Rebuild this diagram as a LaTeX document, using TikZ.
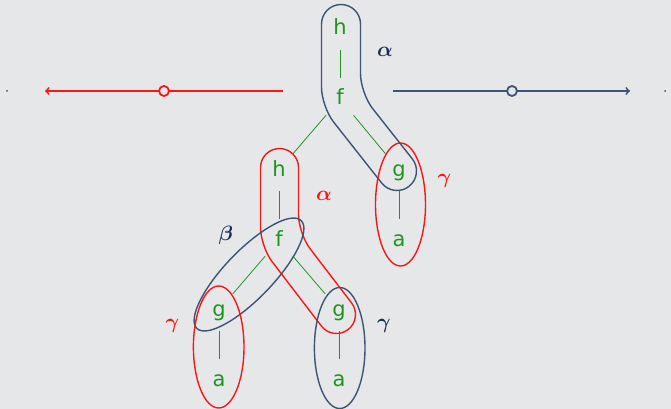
\documentclass[tikz,border=0pt]{standalone}
\usepackage{amsmath, amssymb}
\usepackage{bm}
\usepackage{fontspec}
\newfontfamily\treefont{DejaVu Sans}

\definecolor{bggray}{RGB}{230,231,233}
\definecolor{leafgreen}{RGB}{30,150,30}
\definecolor{ringred}{RGB}{255,20,20}
\definecolor{ringblue}{RGB}{58,85,118}
\definecolor{tagblue}{RGB}{25,45,90}

\tikzset{
  leaf/.style={circle, minimum size=42pt, inner sep=0pt, text=leafgreen,
    font=\treefont\fontsize{21}{25}\selectfont, text height=14pt, text depth=2pt},
  branch/.style={leafgreen, line width=0.8pt},
  ring/.style={line width=1.4pt},
  tag/.style={font=\fontsize{20}{22}\selectfont},
  hole/.style={circle, fill=bggray, line width=1.8pt, minimum size=10pt, inner sep=0pt},
}

\begin{document}
\begin{tikzpicture}[x=1pt, y=-1pt]
\useasboundingbox (0,0) rectangle (671,409);
\fill[bggray] (0,0) rectangle (671,409);

% rays
\coordinate (redfrom) at (283,91);
\coordinate (redto) at (45,91);
\draw[ringred, line width=1.8pt, ->] (redfrom) -- (redto);
\node[hole, draw=ringred] (redhole) at (164,91) {};
\coordinate (bluefrom) at (393,91);
\coordinate (blueto) at (630,91);
\draw[ringblue, line width=1.8pt, ->] (bluefrom) -- (blueto);
\node[hole, draw=ringblue] (bluehole) at (512,91) {};
\fill[black!70] (7,91) circle (1pt);
\fill[black!70] (665,91) circle (1pt);

% upper term
\node[leaf] (h1) at (340,29) {h};
\node[leaf] (f1) at (340,99) {f};
\node[leaf] (g1) at (399,170) {g};
\node[leaf] (a1) at (399,240) {a};

% lower term
\node[leaf] (h2) at (279,170) {h};
\node[leaf] (f2) at (279,240) {f};
\node[leaf] (g2) at (219,310) {g};
\node[leaf] (a2) at (219,380) {a};
\node[leaf] (g3) at (339,310) {g};
\node[leaf] (a3) at (339,380) {a};

% branches
\foreach \u/\v in {h1/f1, f1/h2, f1/g1, g1/a1, h2/f2, f2/g2, f2/g3, g2/a2, g3/a3}
  \draw[branch] (\u) -- (\v);

% alpha around h-f-g (top)
\draw[ring, ringblue, rounded corners=19.5pt]
  (321.5,60) -- (321.5,4.5) -- (360.5,4.5) -- (360.5,93.2)
  -- (424.4,174.2) -- (393.8,198.4) -- (321.5,106.7) -- cycle;
\node[tag, text=tagblue] (alpha1) at (385,52) {$\bm{\alpha}$};

% gamma around g-a (top)
\draw[ring, ringred] (400.5,204.5) ellipse [x radius=25, y radius=61.5];
\node[tag, text=ringred] (gamma1) at (444.5,181) {$\bm{\gamma}$};

% alpha around h-f-g (bottom)
\draw[ring, ringred, rounded corners=19pt]
  (260.5,200) -- (260.5,148.5) -- (298.5,148.5) -- (298.5,233.6)
  -- (363.15,318.05) -- (332.95,341.15) -- (260.5,246.5) -- cycle;
\node[tag, text=ringred] (alpha2) at (324,195.5) {$\bm{\alpha}$};

% beta around f-g
\draw[ring, ringblue, rotate around={46:(249,274.5)}]
  (249,274.5) ellipse [x radius=75, y radius=24];
\node[tag, text=tagblue] (beta) at (225.7,235) {$\bm{\beta}$};

% gammas around g-a (bottom)
\draw[ring, ringred] (218.7,347) ellipse [x radius=25.3, y radius=61];
\node[tag, text=ringred] (gamma2) at (172.5,326) {$\bm{\gamma}$};
\draw[ring, ringblue] (339.7,348) ellipse [x radius=25.3, y radius=60.5];
\node[tag, text=tagblue] (gamma3) at (384,326) {$\bm{\gamma}$};

\end{tikzpicture}
\end{document}
